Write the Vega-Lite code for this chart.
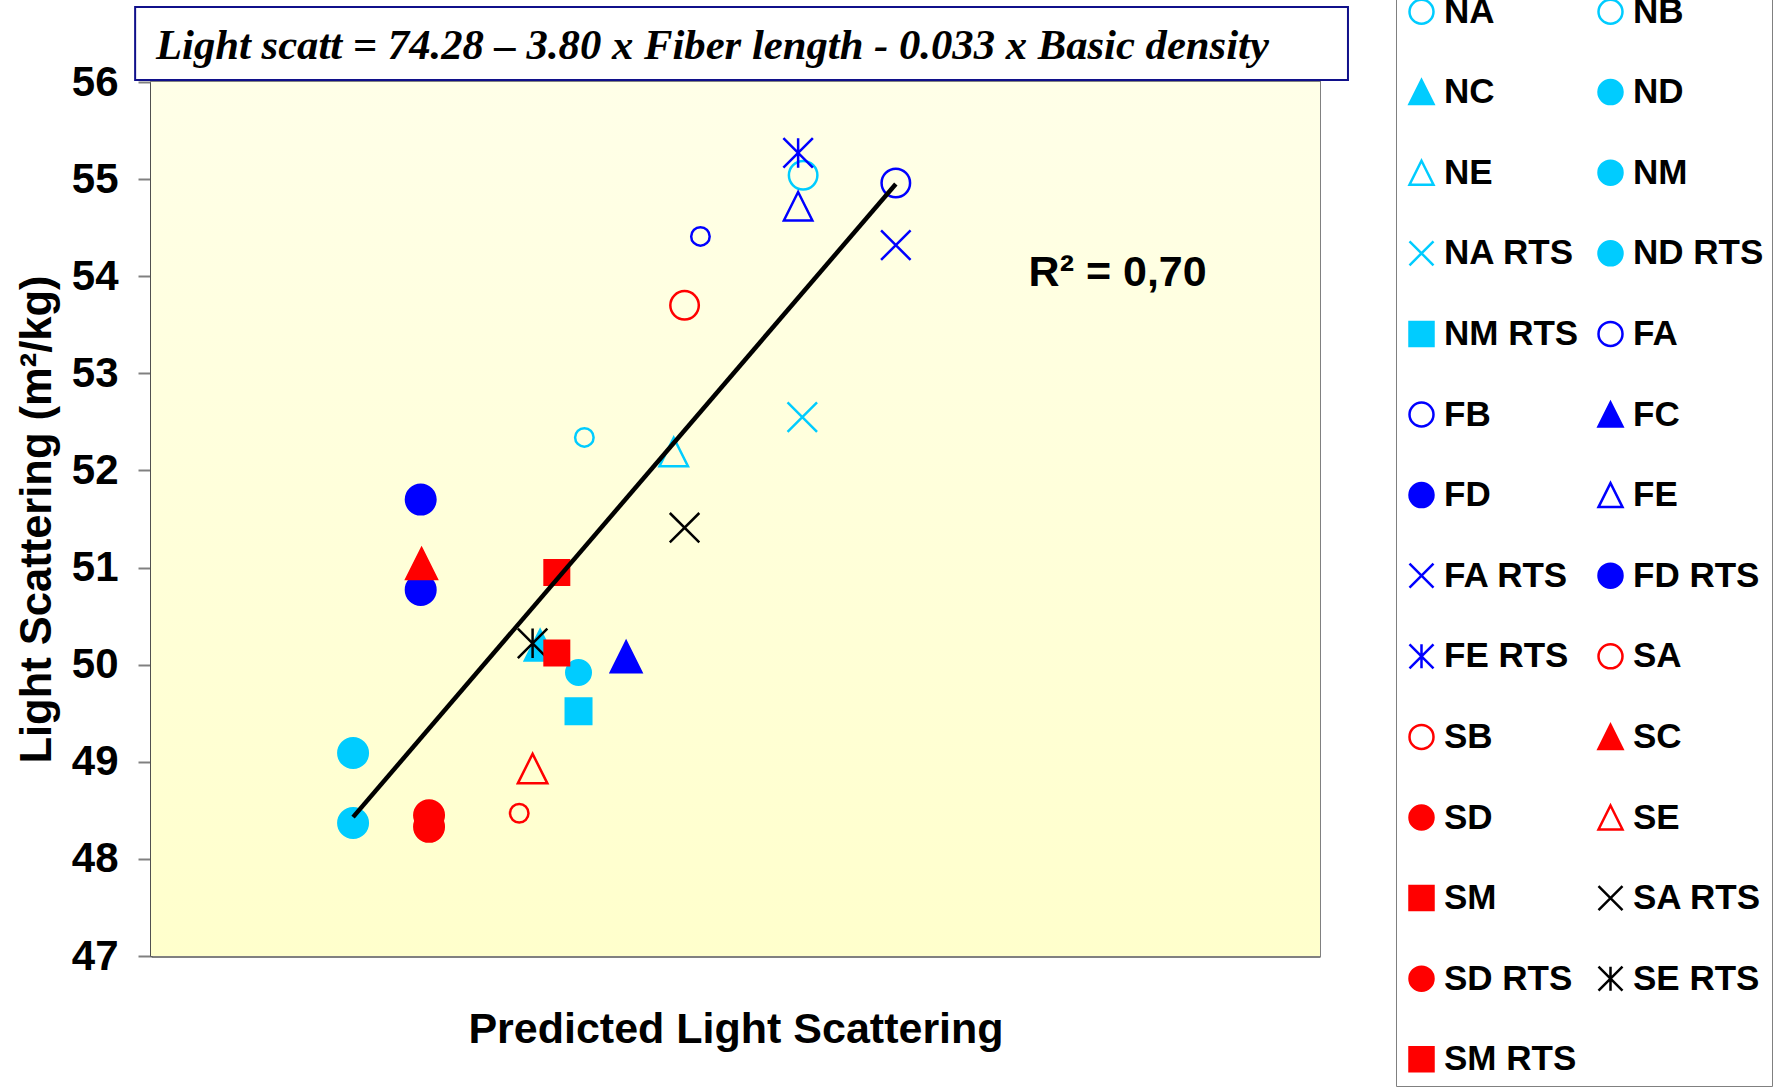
{
  "$schema": "https://vega.github.io/schema/vega-lite/v6.json",
  "autosize": {"type": "none"},
  "width": 1169,
  "height": 874,
  "padding": {"left": 151, "top": 82, "right": 461, "bottom": 135},
  "background": "white",
  "datasets": {
    "points": [
      {"series": "NA", "predicted": 53.81, "measured": 55.04},
      {"series": "NB", "predicted": 51.19, "measured": 52.34},
      {"series": "NC", "predicted": 50.66, "measured": 50.20},
      {"series": "ND", "predicted": 48.42, "measured": 49.09},
      {"series": "NE", "predicted": 52.26, "measured": 52.19},
      {"series": "NM", "predicted": 51.12, "measured": 49.92},
      {"series": "NA RTS", "predicted": 53.80, "measured": 52.55},
      {"series": "ND RTS", "predicted": 48.42, "measured": 48.37},
      {"series": "NM RTS", "predicted": 51.12, "measured": 49.52},
      {"series": "FA", "predicted": 54.92, "measured": 54.96},
      {"series": "FB", "predicted": 52.58, "measured": 54.41},
      {"series": "FC", "predicted": 51.69, "measured": 50.08},
      {"series": "FD", "predicted": 49.23, "measured": 51.70},
      {"series": "FE", "predicted": 53.75, "measured": 54.72},
      {"series": "FA RTS", "predicted": 54.92, "measured": 54.32},
      {"series": "FD RTS", "predicted": 49.23, "measured": 50.77},
      {"series": "FE RTS", "predicted": 53.75, "measured": 55.27},
      {"series": "SA", "predicted": 52.39, "measured": 53.70},
      {"series": "SB", "predicted": 50.41, "measured": 48.47},
      {"series": "SC", "predicted": 49.24, "measured": 51.04},
      {"series": "SD", "predicted": 49.33, "measured": 48.45},
      {"series": "SE", "predicted": 50.57, "measured": 48.93},
      {"series": "SM", "predicted": 50.86, "measured": 50.95},
      {"series": "SA RTS", "predicted": 52.39, "measured": 51.41},
      {"series": "SD RTS", "predicted": 49.33, "measured": 48.33},
      {"series": "SE RTS", "predicted": 50.57, "measured": 50.22},
      {"series": "SM RTS", "predicted": 50.86, "measured": 50.12}
    ],
    "fit": [
      {"predicted": 48.42, "measured": 48.43},
      {"predicted": 54.92, "measured": 54.95}
    ],
    "annotation": [{"label": "annotation"}]
  },
  "layer": [
    {
      "data": {"name": "annotation"},
      "mark": {"type": "rect", "fill": {"gradient": "linear", "x1": 0, "y1": 0, "x2": 0, "y2": 1, "stops": [{"offset": 0, "color": "#FFFFE8"}, {"offset": 1, "color": "#FFFFCC"}]}},
      "encoding": {
        "x": {"datum": 46, "type": "quantitative"},
        "x2": {"datum": 60},
        "y": {"datum": 47, "type": "quantitative"},
        "y2": {"datum": 56}
      }
    },
    {
      "data": {"name": "annotation"},
      "mark": {"type": "rect", "fill": "white", "stroke": "#10108A", "strokeWidth": 2},
      "encoding": {
        "x": {"datum": 45.81, "type": "quantitative"},
        "x2": {"datum": 60.335},
        "y": {"datum": 56.02, "type": "quantitative"},
        "y2": {"datum": 56.772}
      }
    },
    {
      "data": {"name": "annotation"},
      "mark": {"type": "text", "text": "Light scatt = 74.28 – 3.80 x Fiber length - 0.033 x Basic density", "font": "Liberation Serif", "fontStyle": "italic", "fontWeight": "bold", "fontSize": 42.7, "align": "left", "baseline": "alphabetic", "color": "black"},
      "encoding": {
        "x": {"datum": 46.06, "type": "quantitative"},
        "y": {"datum": 56.232, "type": "quantitative"}
      }
    },
    {
      "data": {"name": "points"},
      "mark": {"type": "point", "filled": false, "opacity": 1, "strokeWidth": 2.5},
      "encoding": {
        "x": {"field": "predicted", "type": "quantitative", "scale": {"domain": [46, 60], "nice": false, "zero": false},
          "axis": {"title": "Predicted Light Scattering", "labels": false, "ticks": false, "grid": false, "domainColor": "#808080", "domainWidth": 3, "titleFontSize": 43, "titleFont": "Liberation Sans", "titleFontWeight": "bold", "titleColor": "black", "titlePadding": 52}},
        "y": {"field": "measured", "type": "quantitative", "scale": {"domain": [47, 56], "nice": false, "zero": false},
          "axis": {"title": "Light Scattering (m²/kg)", "values": [47, 48, 49, 50, 51, 52, 53, 54, 55, 56], "format": "d", "grid": false, "tickSize": 13, "tickColor": "#808080", "tickWidth": 2, "labelPadding": 20, "labelFontSize": 42, "labelFont": "Liberation Sans", "labelFontWeight": "bold", "labelColor": "black", "domainColor": "#404040", "domainWidth": 2.5, "titleFontSize": 43.5, "titleFont": "Liberation Sans", "titleFontWeight": "bold", "titleColor": "black", "titlePadding": 12}},
        "fill": {"field": "series", "type": "nominal",
          "scale": {"domain": ["NA","NB","NC","ND","NE","NM","NA RTS","ND RTS","NM RTS","FA","FB","FC","FD","FE","FA RTS","FD RTS","FE RTS","SA","SB","SC","SD","SE","SM","SA RTS","SD RTS","SE RTS","SM RTS"],
            "range": ["transparent","transparent","#00CCFF","#00CCFF","transparent","#00CCFF","transparent","#00CCFF","#00CCFF","transparent","transparent","#0000FF","#0000FF","transparent","transparent","#0000FF","transparent","transparent","transparent","#FF0000","#FF0000","transparent","#FF0000","transparent","#FF0000","transparent","#FF0000"]},
          "legend": {"title": null, "orient": "none", "direction": "horizontal", "legendX": 1245, "legendY": -96, "columns": 2, "columnPadding": 14, "rowPadding": 44.6, "padding": 8, "strokeColor": "#808080", "fillColor": "white", "symbolSize": 576, "symbolStrokeWidth": 2.5, "symbolOpacity": 1, "labelFontSize": 35, "labelFont": "Liberation Sans", "labelFontWeight": "bold", "labelColor": "black", "labelOffset": 5, "labelLimit": 300}},
        "stroke": {"field": "series", "type": "nominal",
          "scale": {"domain": ["NA","NB","NC","ND","NE","NM","NA RTS","ND RTS","NM RTS","FA","FB","FC","FD","FE","FA RTS","FD RTS","FE RTS","SA","SB","SC","SD","SE","SM","SA RTS","SD RTS","SE RTS","SM RTS"],
            "range": ["#00CCFF","#00CCFF","#00CCFF","#00CCFF","#00CCFF","#00CCFF","#00CCFF","#00CCFF","#00CCFF","#0000FF","#0000FF","#0000FF","#0000FF","#0000FF","#0000FF","#0000FF","#0000FF","#FF0000","#FF0000","#FF0000","#FF0000","#FF0000","#FF0000","#000000","#FF0000","#000000","#FF0000"]},
          "legend": {"title": null, "orient": "none", "direction": "horizontal", "legendX": 1245, "legendY": -96, "columns": 2, "columnPadding": 14, "rowPadding": 44.6, "padding": 8, "strokeColor": "#808080", "fillColor": "white", "symbolSize": 576, "symbolStrokeWidth": 2.5, "symbolOpacity": 1, "labelFontSize": 35, "labelFont": "Liberation Sans", "labelFontWeight": "bold", "labelColor": "black", "labelOffset": 5, "labelLimit": 300}},
        "shape": {"field": "series", "type": "nominal",
          "scale": {"domain": ["NA","NB","NC","ND","NE","NM","NA RTS","ND RTS","NM RTS","FA","FB","FC","FD","FE","FA RTS","FD RTS","FE RTS","SA","SB","SC","SD","SE","SM","SA RTS","SD RTS","SE RTS","SM RTS"],
            "range": ["circle","circle","M0,-1L1,1L-1,1Z","circle","M0,-1L1,1L-1,1Z","circle","M-1,-1L1,1M-1,1L1,-1","circle","square","circle","circle","M0,-1L1,1L-1,1Z","circle","M0,-1L1,1L-1,1Z","M-1,-1L1,1M-1,1L1,-1","circle","M-1,-1L1,1M-1,1L1,-1M0,-1L0,1","circle","circle","M0,-1L1,1L-1,1Z","circle","M0,-1L1,1L-1,1Z","square","M-1,-1L1,1M-1,1L1,-1","circle","M-1,-1L1,1M-1,1L1,-1M0,-1L0,1","square"]},
          "legend": {"title": null, "orient": "none", "direction": "horizontal", "legendX": 1245, "legendY": -96, "columns": 2, "columnPadding": 14, "rowPadding": 44.6, "padding": 8, "strokeColor": "#808080", "fillColor": "white", "symbolSize": 576, "symbolStrokeWidth": 2.5, "symbolOpacity": 1, "labelFontSize": 35, "labelFont": "Liberation Sans", "labelFontWeight": "bold", "labelColor": "black", "labelOffset": 5, "labelLimit": 300}},
        "size": {"field": "series", "type": "nominal",
          "scale": {"type": "ordinal", "domain": ["SM RTS","SE RTS","SD RTS","SA RTS","SM","SE","SD","SC","SB","SA","FE RTS","FD RTS","FA RTS","FE","FD","FC","FB","FA","NM RTS","ND RTS","NA RTS","NM","NE","ND","NC","NB","NA"],
            "range": [600,870,870,870,600,870,870,930,342,812,870,870,870,812,870,930,342,812,650,870,870,600,812,870,930,342,812]},
          "legend": null}
      }
    },
    {
      "data": {"name": "fit"},
      "mark": {"type": "line", "color": "black", "strokeWidth": 4.5},
      "encoding": {
        "x": {"field": "predicted", "type": "quantitative"},
        "y": {"field": "measured", "type": "quantitative"}
      }
    },
    {
      "data": {"name": "annotation"},
      "mark": {"type": "text", "text": "R² = 0,70", "font": "Liberation Sans", "fontWeight": "bold", "fontSize": 43, "align": "left", "baseline": "alphabetic", "color": "black"},
      "encoding": {
        "x": {"datum": 56.51, "type": "quantitative"},
        "y": {"datum": 53.90, "type": "quantitative"}
      }
    }
  ],
  "config": {
    "font": "Liberation Sans",
    "view": {"stroke": "#808080", "strokeWidth": 2}
  }
}
